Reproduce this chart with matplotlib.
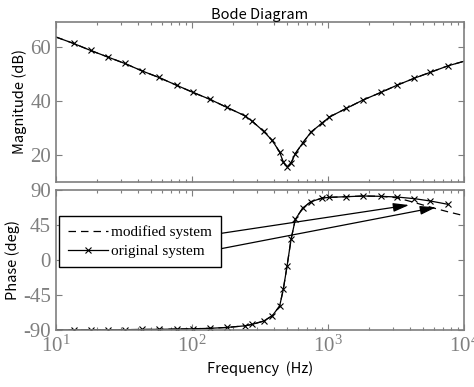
import matplotlib
matplotlib.use("Agg")
import matplotlib.pyplot as plt
from matplotlib.ticker import LogLocator, NullFormatter, FixedLocator

# frequency points [Hz] (marker positions of the original system)
freq = [10, 13.5, 18, 24, 32, 43, 57, 77, 101, 135, 180, 244, 276, 336, 389,
        441, 469, 500, 535, 575, 655, 750, 908, 1024, 1364, 1806, 2442, 3214,
        4310, 5653, 7620, 10000]

# magnitude [dB], same for both systems
mag = [63.8, 61.4, 58.8, 56.4, 54.0, 51.2, 48.8, 45.9, 43.3, 40.7, 37.7, 34.6,
       32.6, 28.8, 25.4, 21.1, 17.3, 15.7, 17.0, 20.5, 24.6, 28.5, 31.9, 34.1,
       37.3, 40.4, 43.2, 45.9, 48.5, 50.7, 53.1, 54.8]

# phase [deg]
phase_orig = [-89.9, -89.8, -89.7, -89.6, -89.4, -89.2, -89.0, -88.7, -88.3,
              -87.7, -86.6, -84.5, -82.7, -78.4, -71.6, -59.1, -37.7, -7.7,
              26.6, 52.3, 67.3, 75.0, 79.7, 80.6, 81.4, 82.3, 81.9, 81.0, 78.9,
              75.9, 71.6]
phase_mod = phase_orig[:27] + [80.0, 74.0, 68.0, 62.0, 57.0]

labels = ["modified system", "original system"]
xticks = [10, 100, 1000, 10000]
xticklabels = [r"$\mathrm{10^{1}}$", r"$\mathrm{10^{2}}$", r"$\mathrm{10^{3}}$", r"$\mathrm{10^{4}}$"]

plt.rcParams["mathtext.fontset"] = "custom"
plt.rcParams["mathtext.rm"] = "Liberation Serif"
plt.rcParams["mathtext.it"] = "Liberation Serif"
gray = "#7f7f7f"
sans = ["Noto Sans CJK JP", "DejaVu Sans"]

fig = plt.figure(figsize=(4.74, 3.87), dpi=100)
ax1 = fig.add_axes([0.118, 0.530, 0.861, 0.414])
ax2 = fig.add_axes([0.118, 0.147, 0.861, 0.362])

dash = (0, (6, 4))
ax1.plot(freq, mag, color="k", lw=0.9, ls=dash)
ax1.plot(freq, mag, color="k", lw=0.9, marker="x", ms=4, mew=0.8, markevery=slice(1, -1))

ax2.plot(freq[:len(phase_mod)], phase_mod, color="k", lw=0.9, ls=dash, label=labels[0])
ax2.plot(freq[:len(phase_orig)], phase_orig, color="k", lw=0.9, marker="x", ms=4,
         mew=0.8, markevery=slice(1, None), label=labels[1])

for ax in (ax1, ax2):
    ax.set_xscale("log")
    ax.set_xlim(10, 10000)
    ax.xaxis.set_major_locator(FixedLocator(xticks))
    ax.xaxis.set_minor_locator(LogLocator(base=10, subs=range(2, 10)))
    ax.xaxis.set_minor_formatter(NullFormatter())
    ax.tick_params(which="both", direction="in", top=True, right=True, color=gray,
                   labelcolor=gray, labelsize=15, width=0.8)
    ax.tick_params(which="major", length=4)
    ax.tick_params(which="minor", length=2.5)
    for s in ax.spines.values():
        s.set_color(gray)
        s.set_linewidth(1.2)

ax1.set_ylim(10, 69.5)
ax1.set_yticks([20, 40, 60])
ax1.set_yticklabels(["20", "40", "60"], family="Liberation Serif")
ax1.set_xticklabels([])
ax1.set_ylabel("Magnitude (dB)", fontsize=10.5, family=sans, labelpad=2)
ax1.set_title("Bode Diagram", fontsize=10.5, family=sans, pad=2)

ax2.set_ylim(-90, 90)
ax2.set_yticks([-90, -45, 0, 45, 90])
ax2.set_yticklabels(["-90", "-45", "0", "45", "90"], family="Liberation Serif")
ax2.set_xticklabels(xticklabels)
ax2.set_ylabel("Phase (deg)", fontsize=10.5, family=sans, labelpad=2)
ax2.set_xlabel("Frequency  (Hz)", fontsize=10.5, family=sans, labelpad=4)

leg = ax2.legend(loc="upper left", bbox_to_anchor=(0.007, 0.814), fancybox=False,
                 edgecolor="k", framealpha=1, borderaxespad=0, handlelength=2.6,
                 handletextpad=0.2, labelspacing=0.35, borderpad=0.6,
                 prop={"family": "Liberation Serif", "size": 11})
leg.get_frame().set_linewidth(1.0)

arrow = dict(arrowstyle="-|>,head_length=0.8,head_width=0.22", color="k", lw=0.9,
             shrinkA=0, shrinkB=0, mutation_scale=12)
ax2.annotate("", xy=(3945, 70.7), xycoords="data", xytext=(0.353, 0.668),
             textcoords="axes fraction", arrowprops=arrow)
ax2.annotate("", xy=(6223, 67.8), xycoords="data", xytext=(0.324, 0.536),
             textcoords="axes fraction", arrowprops=arrow)

fig.savefig("out.png", dpi=100)
